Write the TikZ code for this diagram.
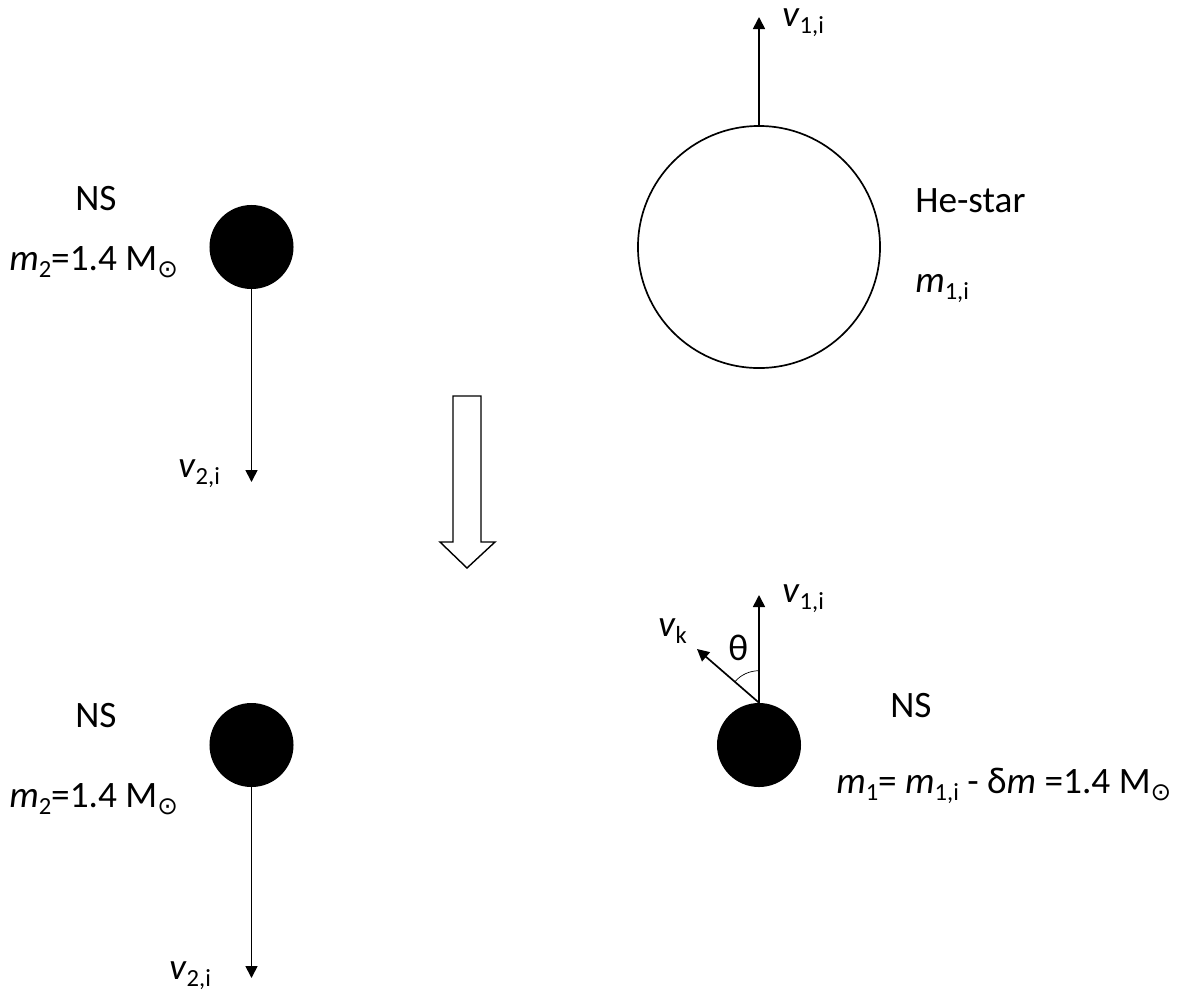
\documentclass[tikz,border=0pt]{standalone}
\usepackage{fontspec}
\setmainfont{Carlito}
\newfontfamily\dejavu{DejaVu Sans}
\usetikzlibrary{arrows.meta,angles}

\newcommand{\lowsub}[1]{\raisebox{-0.2em}{\fontsize{17.5}{20}\selectfont #1}}
\newcommand{\solarmass}{M\lowsub{\dejavu ⊙}}
\newcommand{\vel}[1]{\textit{v}\lowsub{#1}}

\begin{document}
\begin{tikzpicture}[
  x=0.025cm, y=-0.025cm,
  lbl/.style={anchor=base west, inner sep=0pt, font=\fontsize{26.5}{32}\selectfont},
  ns/.style={circle, fill=black, minimum size=2.1cm, inner sep=0pt},
  star/.style={circle, draw=black, line width=1.2pt, minimum size=6.05cm, inner sep=0pt},
  vec/.style={line width=1.2pt, -{Triangle[length=0.3cm, width=0.3cm]}}
  ]

\useasboundingbox (0,0) rectangle (1178,996);

% before the supernova
\node[ns] (nsA) at (251.5,247) {};
\node[star] (heStar) at (759,247) {};
\node[lbl] (nsAname) at (75,210) {NS};
\node[lbl] (nsAmass) at (9,270) {\textit{m}\lowsub{2}=1.4 \solarmass};
\node[lbl] (heName) at (915,212) {He-star};
\node[lbl] (heMass) at (915,292) {\textit{m}\lowsub{1,i}};

\coordinate (v1aTip) at (759,17);
\coordinate (v2aTip) at (251.5,482);
\draw[vec] (heStar.north) -- (v1aTip);
\draw[vec] (nsA.south) -- (v2aTip);
\node[lbl] (v1aLbl) at (782,26) {\vel{1,i}};
\node[lbl] (v2aLbl) at (178,477) {\vel{2,i}};

% hollow arrow
\draw[line width=1pt, fill=white] (453,396) -- (481,396) -- (481,542) -- (495,542)
  -- (467,568) -- (440,542) -- (453,542) -- cycle;

% after the supernova
\node[ns] (nsB) at (251.5,745) {};
\node[ns] (nsC) at (759,745) {};
\node[lbl] (nsBname) at (75,727) {NS};
\node[lbl] (nsBmass) at (9,807) {\textit{m}\lowsub{2}=1.4 \solarmass};
\node[lbl] (nsCname) at (890,717) {NS};
\node[lbl] (nsCmass) at (836,793)
  {\textit{m}\lowsub{1}= \textit{m}\lowsub{1,i} - δ\textit{m} =1.4 \solarmass};

\coordinate (v2bTip) at (251.5,978);
\coordinate (v1bTip) at (759,595);
\coordinate (vkTip) at (697,649);
\coordinate (kickBase) at (nsC.north);
\draw[vec] (nsB.south) -- (v2bTip);
\draw[vec] (kickBase) -- (v1bTip);
\draw[vec] (kickBase) -- (vkTip);
\pic[draw, line width=0.5pt, angle radius=0.8cm] {angle = v1bTip--kickBase--vkTip};
\node[lbl] (v2bLbl) at (169,979) {\vel{2,i}};
\node[lbl] (v1bLbl) at (782,602) {\vel{1,i}};
\node[lbl] (vkLbl) at (658,636) {\vel{k}};
\node[lbl] (thetaLbl) at (728,660) {θ};

\end{tikzpicture}
\end{document}
